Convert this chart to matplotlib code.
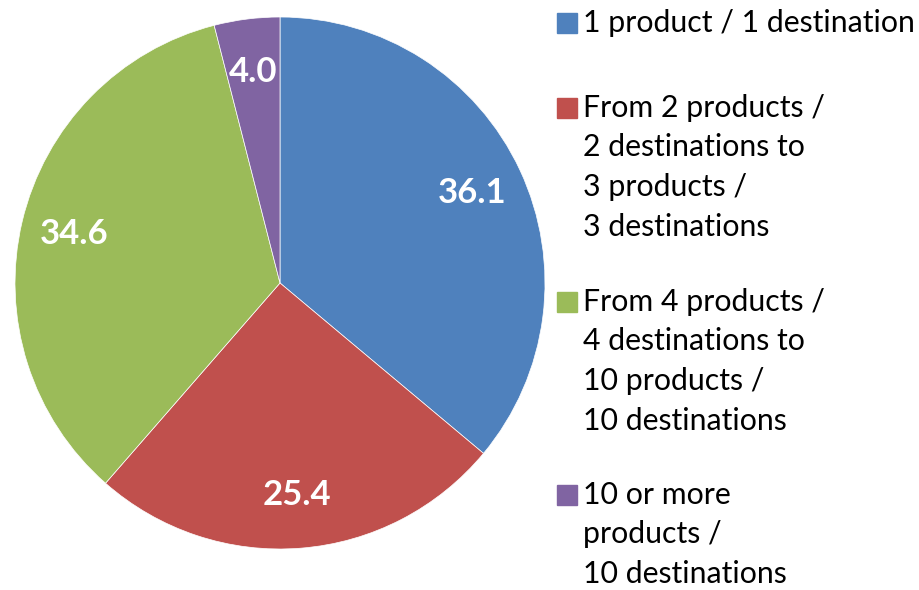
import matplotlib.pyplot as plt
from matplotlib.patches import Rectangle

# share of firms by product/destination mix
values = [36.1, 25.4, 34.6, 4.0]
value_labels = ["36.1", "25.4", "34.6", "4.0"]
colors = ["#4F81BD", "#C0504D", "#9BBB59", "#8064A2"]
legend_lines = [
    ["1 product / 1 destination"],
    ["From 2 products /", "2 destinations to", "3 products /", "3 destinations"],
    ["From 4 products /", "4 destinations to", "10 products /", "10 destinations"],
    ["10 or more", "products /", "10 destinations"],
]

W, H = 919, 590
fig = plt.figure(figsize=(W / 100, H / 100), dpi=100)
fig.patch.set_facecolor("white")

# pie area in pixels: left 15, right 545, top 17, bottom 549
ax = fig.add_axes([15 / W, 41 / H, 530 / W, 532 / H])
wedges, texts, autotexts = ax.pie(
    values, colors=colors, startangle=90, counterclock=False,
    autopct="%1.1f", pctdistance=0.80,
    wedgeprops=dict(linewidth=0.5, edgecolor="white"),
)
for t, lab in zip(autotexts, value_labels):
    t.set_text(lab)
    t.set_color("white")
    t.set_fontsize(25)
    t.set_fontweight("bold")
    t.set_family("Lato")
ax.set_xlim(-1, 1)
ax.set_ylim(-1, 1)
ax.set_aspect("auto")
ax.axis("off")

# hand-made legend so the line spacing matches
entry_top = [23, 108, 302, 495]  # pixel y of first line centre
line_gap = 39.5
for lines, c, y0 in zip(legend_lines, colors, entry_top):
    fig.patches.append(Rectangle((557 / W, 1 - (y0 + 10) / H), 20 / W, 20 / H,
                                 transform=fig.transFigure, color=c))
    for i, line in enumerate(lines):
        y = y0 + i * line_gap
        fig.text(583 / W, 1 - y / H, line, fontsize=21.8, family="Lato",
                 color="black", va="center", ha="left")

fig.savefig("out.png", dpi=100)
